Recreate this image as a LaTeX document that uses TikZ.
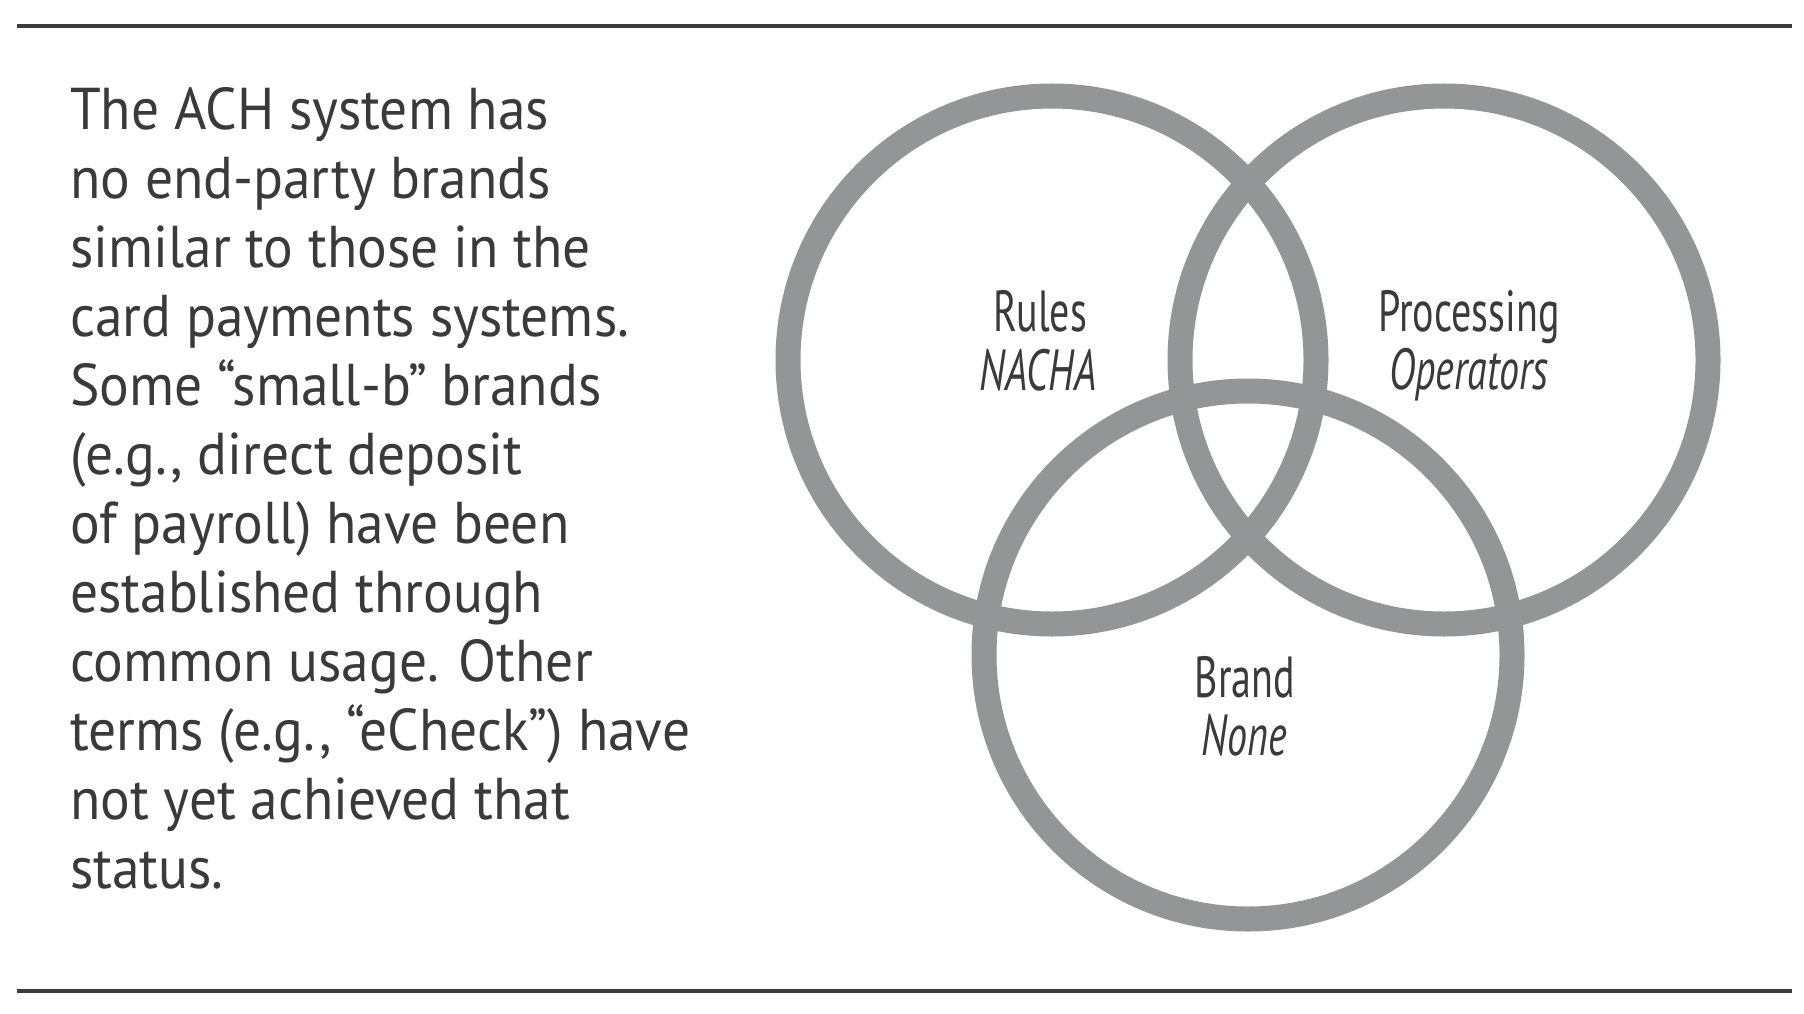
\documentclass[tikz,border=0pt]{standalone}
\usepackage{fontspec}
\setmainfont{PT Sans}[FakeStretch=0.94]
\newfontfamily\condfont[FakeStretch=0.69]{PT Sans}
\definecolor{ringgray}{RGB}{147,149,151}
\definecolor{txtgray}{RGB}{58,58,58}
\definecolor{rulegray}{RGB}{60,60,60}
\begin{document}
\begin{tikzpicture}[x=1pt,y=-1pt,
  ring/.style={draw=ringgray,line width=25pt,circle,minimum size=528pt,inner sep=0pt},
  hrule/.style={draw=rulegray,line width=4.5pt},
  lblname/.style={font=\condfont\fontsize{58}{59}\selectfont,text=txtgray,inner sep=0pt,anchor=base},
  lblorg/.style={font=\condfont\itshape\fontsize{58}{59}\selectfont,text=txtgray,inner sep=0pt,anchor=base},
  bodytext/.style={font=\fontsize{59}{69}\selectfont,text=txtgray,inner sep=0pt,align=left,anchor=base west}]
\useasboundingbox (0,0) rectangle (1804,1014);
\fill[white] (0,0) rectangle (1804,1014);
\coordinate (tl) at (17,26);
\coordinate (tr) at (1792,26);
\coordinate (bl) at (17,991);
\coordinate (br) at (1792,991);
\draw[hrule] (tl) -- (tr);
\draw[hrule] (bl) -- (br);
\node[ring] (rulesC) at (1052,360) {};
\node[ring] (procC) at (1444,360) {};
\node[ring] (brandC) at (1248,655) {};
\node[lblname] (rulesN) at (1040,331) {Rules};
\node[lblorg] (rulesO) at (1038,390) {NACHA};
\node[lblname] (procN) at (1469,331) {Processing};
\node[lblorg] (procO) at (1469,389) {Operators};
\node[lblname] (brandN) at (1245,697) {Brand};
\node[lblorg] (brandO) at (1244,755) {None};
\node[bodytext] (body) at (70,888) {The ACH system has\\
no end-party brands\\
similar to those in the\\
card payments systems.\\
Some “small-b” brands\\
(e.g., direct deposit\\
of payroll) have been\\
established through\\
common usage. Other\\
terms (e.g., “eCheck”) have\\
not yet achieved that\\
status.};
\end{tikzpicture}
\end{document}
